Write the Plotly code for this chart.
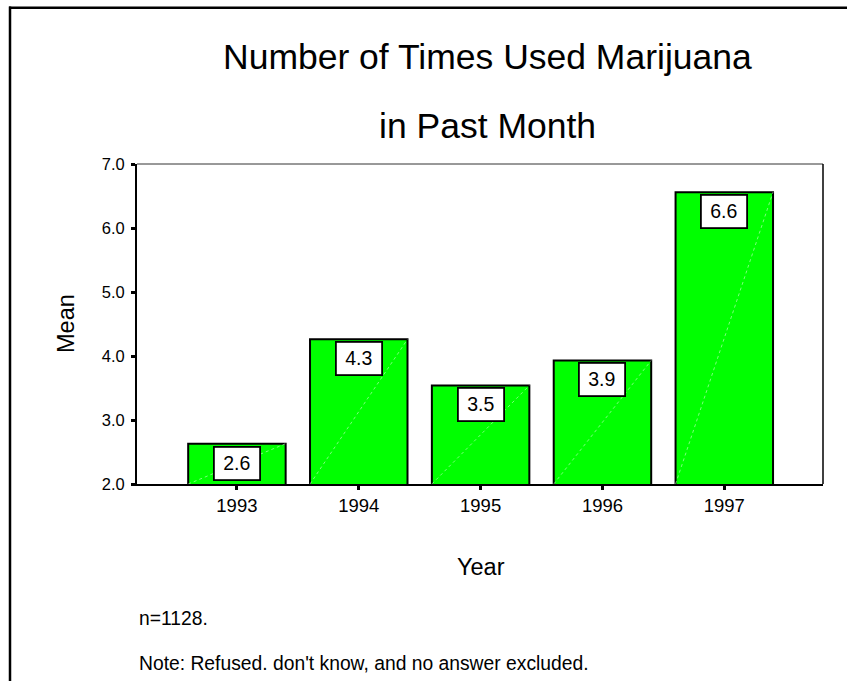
import plotly.graph_objects as go

# Mean number of times marijuana was used in the past month, by survey year
years = ["1993", "1994", "1995", "1996", "1997"]
means = [2.63, 4.26, 3.54, 3.93, 6.56]
y_ticks = [2.0, 3.0, 4.0, 5.0, 6.0, 7.0]
y_tick_text = ["2.0", "3.0", "4.0", "5.0", "6.0", "7.0"]

title_lines = ["Number of Times Used Marijuana", "in Past Month"]
notes = ["n=1128.", "Note: Refused. don't know, and no answer excluded."]

W, H = 847, 681
ML, MR, MT, MB = 137, 24, 164, 197
PW, PH = W - ML - MR, H - MT - MB
BAR_W = 0.8
Y_MIN = y_ticks[0]


def px(x):
    """pixel x -> paper x"""
    return (x - ML) / PW


def py(y):
    """pixel y (from top) -> paper y"""
    return (H - MB - y) / PH


FONT = "Arial, 'Liberation Sans', sans-serif"
GREEN = "#00ff00"

fig = go.Figure(
    go.Bar(
        x=years,
        y=means,
        width=BAR_W,
        marker=dict(color=GREEN, line=dict(color="black", width=2)),
        hoverinfo="x+y",
    )
)

annotations = []
shapes = []

for i, m in enumerate(means):
    # faint diagonal highlight across each bar
    shapes.append(dict(
        type="line", xref="x", yref="y", layer="above",
        x0=i - BAR_W / 2, y0=Y_MIN, x1=i + BAR_W / 2, y1=m,
        line=dict(color="rgba(220,255,220,0.8)", width=0.7, dash="dot"),
    ))
    # value box at the top of each bar
    annotations.append(dict(
        x=i, y=m, xref="x", yref="y",
        text=f"{m:.1f}", showarrow=False,
        xanchor="center", yanchor="top", yshift=-2,
        width=44, height=31, borderpad=0,
        bgcolor="white", bordercolor="black", borderwidth=1.8,
        font=dict(family=FONT, size=19.5, color="black"),
    ))

# chart title (two lines with wide spacing)
for text, yc in zip(title_lines, [57, 126]):
    annotations.append(dict(
        x=px(487), y=py(yc), xref="paper", yref="paper",
        text=text, showarrow=False, xanchor="center", yanchor="middle",
        font=dict(family=FONT, size=35.5, color="black"),
    ))

# axis titles
annotations.append(dict(
    x=px(66), y=py(324), xref="paper", yref="paper",
    text="Mean", textangle=-90, showarrow=False,
    xanchor="center", yanchor="middle",
    font=dict(family=FONT, size=23.5, color="black"),
))
annotations.append(dict(
    x=px(481), y=py(567), xref="paper", yref="paper",
    text="Year", showarrow=False, xanchor="center", yanchor="middle",
    font=dict(family=FONT, size=23.5, color="black"),
))

# footnotes
for text, yc in zip(notes, [618, 663]):
    annotations.append(dict(
        x=px(137), y=py(yc), xref="paper", yref="paper",
        text=text, showarrow=False, xanchor="left", yanchor="middle",
        font=dict(family=FONT, size=19.3, color="black"),
    ))

shapes += [
    # thin top and right edges of the plot frame
    dict(type="line", xref="paper", yref="paper", x0=0, x1=1, y0=1, y1=1,
         line=dict(color="#333333", width=1)),
    dict(type="line", xref="paper", yref="paper", x0=1, x1=1, y0=0, y1=1,
         line=dict(color="black", width=1.5)),
    # outer page border (top and left)
    dict(type="line", xref="paper", yref="paper",
         x0=px(9), x1=px(W + 2), y0=py(7.8), y1=py(7.8),
         line=dict(color="black", width=2.5)),
    dict(type="line", xref="paper", yref="paper",
         x0=px(10), x1=px(10), y0=py(6.5), y1=py(H + 2),
         line=dict(color="black", width=2.5)),
]

fig.update_layout(
    width=W, height=H,
    margin=dict(l=ML, r=MR, t=MT, b=MB, pad=0),
    paper_bgcolor="white", plot_bgcolor="white",
    showlegend=False,
    font=dict(family=FONT, color="black"),
    annotations=annotations,
    shapes=shapes,
    xaxis=dict(
        type="category", range=[-0.82, 4.81],
        showline=True, linecolor="black", linewidth=2,
        ticks="outside", ticklen=4, tickwidth=3, tickcolor="black",
        ticklabelstandoff=0,
        tickfont=dict(family=FONT, size=18.5, color="black"),
        showgrid=False, zeroline=False,
    ),
    yaxis=dict(
        range=[Y_MIN, y_ticks[-1]], tickvals=y_ticks, ticktext=y_tick_text,
        showline=True, linecolor="black", linewidth=2,
        ticks="outside", ticklen=4, tickwidth=3, tickcolor="black",
        ticklabelstandoff=3,
        tickfont=dict(family=FONT, size=16.5, color="black"),
        showgrid=False, zeroline=False,
    ),
)

fig.write_html("out.html")
